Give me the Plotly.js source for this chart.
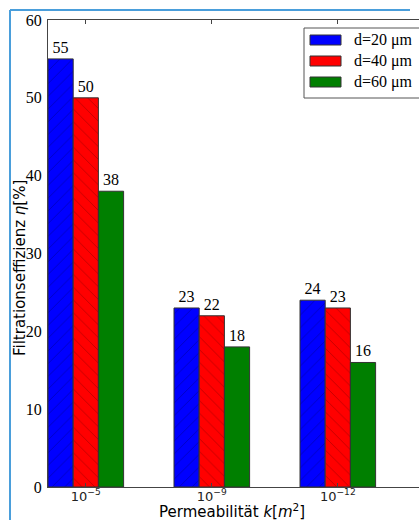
<!DOCTYPE html>
<html>
<head>
<meta charset="utf-8">
<script src="https://cdn.plot.ly/plotly-3.0.1.min.js"></script>
<style>
html,body{margin:0;padding:0;overflow:hidden;background:#fff;}
#chart{width:430px;height:520px;}
</style>
</head>
<body>
<div id="chart"></div>
<script>
// Data
var categories = ["10<sup>−5</sup>", "10<sup>−9</sup>", "10<sup>−12</sup>"];
var seriesNames = ["d=20 μm", "d=40 μm", "d=60 μm"];
var d20 = [55, 23, 24];
var d40 = [50, 22, 23];
var d60 = [38, 18, 16];
var yTicks = [0, 10, 20, 30, 40, 50, 60];

var seriesValues = [d20, d40, d60];
var colors = ["#0000ff", "#ff0000", "#007f00"];
var hatches = ["/", "\\", ""];
var hatchColors = ["#000099", "#990000", "#003f00"];

var W = 430, H = 520;
var M = {l: 48, r: 4, t: 20, b: 33};
var PW = W - M.l - M.r, PH = H - M.t - M.b;
function px(x){ return (x - M.l) / PW; }
function py(y){ return (H - M.b - y) / PH; }

var serif = "Liberation Serif, DejaVu Serif, serif";
var sans = "DejaVu Sans, sans-serif";

var traces = seriesValues.map(function(vals, i){
  return {
    type: "bar",
    x: [0, 1, 2],
    y: vals,
    name: seriesNames[i],
    marker: {
      color: colors[i],
      line: {color: "#333333", width: 1},
      pattern: {shape: hatches[i], fgcolor: hatchColors[i], bgcolor: colors[i], fgopacity: 0.6, size: 9, solidity: 0.1, fillmode: "replace"}
    },
    text: vals.map(String),
    textposition: "outside",
    textfont: {family: serif, size: 16, color: "#000"},
    cliponaxis: false,
    showlegend: false
  };
});

var shapes = [];
var annotations = [];
// screenshot-style frame
shapes.push({type: "line", xref: "paper", yref: "paper", x0: px(10), x1: px(10), y0: py(10), y1: py(520), line: {color: "#4a9edb", width: 2}});
shapes.push({type: "line", xref: "paper", yref: "paper", x0: px(10), x1: px(410), y0: py(10), y1: py(10), line: {color: "#4a9edb", width: 2}});
// legend box
shapes.push({type: "rect", xref: "paper", yref: "paper", x0: px(304), x1: px(440), y0: py(28), y1: py(98), line: {color: "#555", width: 1}, fillcolor: "#fff"});
var rowY = [40, 61, 82];
seriesNames.forEach(function(n, i){
  shapes.push({type: "rect", xref: "paper", yref: "paper", x0: px(310), x1: px(341), y0: py(rowY[i] - 5), y1: py(rowY[i] + 5), line: {color: "#333", width: 1}, fillcolor: colors[i]});
  annotations.push({xref: "paper", yref: "paper", x: px(352), y: py(rowY[i]), xanchor: "left", yanchor: "middle", showarrow: false, text: n, font: {family: serif, size: 16, color: "#000"}});
});
// axis titles
annotations.push({xref: "paper", yref: "paper", x: px(232), y: py(511), xanchor: "center", yanchor: "middle", showarrow: false,
  text: "Permeabilität <i>k</i>[<i>m</i><sup>2</sup>]", font: {family: sans, size: 15, color: "#000"}});
annotations.push({xref: "paper", yref: "paper", x: px(20), y: py(268), xanchor: "center", yanchor: "middle", showarrow: false, textangle: -90,
  text: "Filtrationseffizienz <i>η</i>[%]", font: {family: sans, size: 15, color: "#000"}});

var layout = {
  width: W, height: H,
  margin: M,
  paper_bgcolor: "#fff",
  plot_bgcolor: "#fff",
  barmode: "group",
  bargap: 0.4,
  bargroupgap: 0,
  showlegend: false,
  xaxis: {
    range: [-0.3, 2.7],
    tickmode: "array",
    tickvals: [0, 1, 2],
    ticktext: categories,
    tickfont: {family: sans, size: 13, color: "#222"},
    ticks: "inside", ticklen: 4, tickcolor: "#444",
    ticklabelstandoff: -3,
    showline: true, linecolor: "#444", linewidth: 1, mirror: "ticks",
    showgrid: false, zeroline: false,
    automargin: false
  },
  yaxis: {
    range: [0, 60],
    tickmode: "array",
    tickvals: yTicks,
    ticktext: yTicks.map(String),
    tickfont: {family: serif, size: 16, color: "#000"},
    ticks: "",
    ticklabelstandoff: 2,
    showline: true, linecolor: "#444", linewidth: 1, mirror: true,
    showgrid: false, zeroline: false,
    automargin: false
  },
  shapes: shapes,
  annotations: annotations
};

Plotly.newPlot("chart", traces, layout, {displayModeBar: false, staticPlot: true});
</script>
</body>
</html>
